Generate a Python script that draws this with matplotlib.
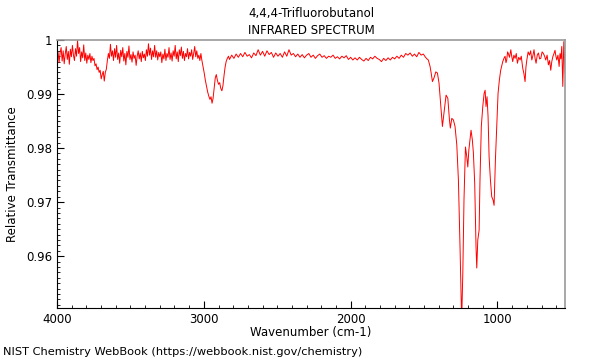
import matplotlib
matplotlib.use("Agg")
import matplotlib.pyplot as plt
from matplotlib.ticker import MultipleLocator, FixedLocator, FixedFormatter
import numpy as np

title_lines = ["4,4,4-Trifluorobutanol", "INFRARED SPECTRUM"]
x_label = "Wavenumber (cm-1)"
y_label = "Relative Transmittance"
footer = "NIST Chemistry WebBook (https://webbook.nist.gov/chemistry)"
x_ticks = [4000, 3000, 2000, 1000]
y_ticks = [0.96, 0.97, 0.98, 0.99, 1.0]
y_tick_labels = ["0.96", "0.97", "0.98", "0.99", "1"]

# Segment 1: 4000-3013 cm-1 (noisy region with O-H area dip)
wn_high = [4000, 3993, 3986, 3979, 3972, 3965, 3958, 3951, 3944, 3937, 3930, 3923,
           3916, 3909, 3902, 3895, 3888, 3881, 3874, 3867, 3860, 3853, 3846, 3839,
           3832, 3825, 3818, 3811, 3804, 3797, 3790, 3783, 3776, 3769, 3762, 3755,
           3748, 3741, 3734, 3727, 3720, 3713, 3706, 3699, 3692, 3685, 3678, 3671,
           3664, 3657, 3650, 3643, 3636, 3629, 3622, 3615, 3608, 3601, 3594, 3587,
           3580, 3573, 3566, 3559, 3552, 3545, 3538, 3531, 3524, 3517, 3510, 3503,
           3496, 3489, 3482, 3475, 3468, 3461, 3454, 3447, 3440, 3433, 3426, 3419,
           3412, 3405, 3398, 3391, 3384, 3377, 3370, 3363, 3356, 3349, 3342, 3335,
           3328, 3321, 3314, 3307, 3300, 3293, 3286, 3279, 3272, 3265, 3258, 3251,
           3244, 3237, 3230, 3223, 3216, 3209, 3202, 3195, 3188, 3181, 3174, 3167,
           3160, 3153, 3146, 3139, 3132, 3125, 3118, 3111, 3104, 3097, 3090, 3083,
           3076, 3069, 3062, 3055, 3048, 3041, 3034, 3027, 3020, 3013]
t_high = [0.9968, 0.9978, 0.9958, 0.9976, 0.9986, 0.9961, 0.9980, 0.9956, 0.9974, 0.9988,
          0.9964, 0.9979, 0.9955, 0.9983, 0.9969, 0.9990, 0.9972, 0.9962, 0.9984, 0.9970,
          0.9999, 0.9975, 0.9986, 0.9960, 0.9978, 0.9967, 0.9991, 0.9962, 0.9976, 0.9957,
          0.9972, 0.9964, 0.9975, 0.9958, 0.9970, 0.9962, 0.9966, 0.9952, 0.9956, 0.9945,
          0.9950, 0.9940, 0.9944, 0.9928, 0.9936, 0.9942, 0.9924, 0.9940, 0.9946, 0.9962,
          0.9975, 0.9966, 0.9992, 0.9970, 0.9980, 0.9962, 0.9984, 0.9968, 0.9990, 0.9964,
          0.9976, 0.9957, 0.9981, 0.9969, 0.9986, 0.9961, 0.9975, 0.9954, 0.9979, 0.9968,
          0.9989, 0.9964, 0.9973, 0.9959, 0.9978, 0.9966, 0.9972, 0.9953, 0.9970, 0.9980,
          0.9965, 0.9976, 0.9960, 0.9979, 0.9967, 0.9974, 0.9962, 0.9982, 0.9970, 0.9993,
          0.9972, 0.9985, 0.9964, 0.9980, 0.9969, 0.9990, 0.9968, 0.9980, 0.9963, 0.9977,
          0.9969, 0.9978, 0.9958, 0.9974, 0.9965, 0.9983, 0.9962, 0.9975, 0.9968, 0.9986,
          0.9964, 0.9976, 0.9961, 0.9980, 0.9970, 0.9990, 0.9965, 0.9978, 0.9960, 0.9982,
          0.9971, 0.9987, 0.9966, 0.9979, 0.9962, 0.9975, 0.9969, 0.9984, 0.9965, 0.9977,
          0.9970, 0.9982, 0.9964, 0.9975, 0.9988, 0.9969, 0.9980, 0.9966, 0.9972, 0.9962,
          0.9975, 0.9962]

# Segment 2: C-H stretch band 3005-2832 cm-1
wn_ch = [3005, 2998, 2990, 2982, 2974, 2966, 2958, 2951, 2944, 2937, 2930, 2922, 2915,
         2908, 2900, 2892, 2885, 2877, 2870, 2862, 2855, 2848, 2840, 2832]
t_ch = [0.9950, 0.9940, 0.9926, 0.9915, 0.9904, 0.9896, 0.9890, 0.9895, 0.9883, 0.9892,
        0.9910, 0.9930, 0.9936, 0.9926, 0.9918, 0.9921, 0.9911, 0.9906, 0.9915, 0.9935,
        0.9950, 0.9960, 0.9966, 0.9970]

# Segment 3: quiet baseline 2825-1480 cm-1
wn_base = [2825, 2810, 2795, 2780, 2765, 2750, 2735, 2720, 2705, 2690, 2675, 2660, 2645,
           2630, 2615, 2600, 2585, 2570, 2555, 2540, 2525, 2510, 2495, 2480, 2465, 2450,
           2435, 2420, 2405, 2390, 2375, 2360, 2345, 2330, 2315, 2300, 2285, 2270, 2255,
           2240, 2225, 2210, 2195, 2180, 2165, 2150, 2135, 2120, 2105, 2090, 2075, 2060,
           2045, 2030, 2015, 2000, 1985, 1970, 1955, 1940, 1925, 1910, 1895, 1880, 1865,
           1850, 1835, 1820, 1805, 1790, 1775, 1760, 1745, 1730, 1715, 1700, 1685, 1670,
           1655, 1640, 1625, 1610, 1595, 1580, 1565, 1550, 1535, 1520, 1505, 1490, 1480]
t_base = [0.9964, 0.9972, 0.9966, 0.9974, 0.9968, 0.9975, 0.9969, 0.9977, 0.9970, 0.9973,
          0.9967, 0.9976, 0.9971, 0.9982, 0.9972, 0.9979, 0.9970, 0.9980, 0.9973, 0.9977,
          0.9968, 0.9976, 0.9970, 0.9975, 0.9968, 0.9978, 0.9970, 0.9982, 0.9972, 0.9975,
          0.9969, 0.9974, 0.9968, 0.9973, 0.9967, 0.9972, 0.9975, 0.9968, 0.9972, 0.9966,
          0.9971, 0.9974, 0.9968, 0.9971, 0.9966, 0.9970, 0.9968, 0.9972, 0.9966, 0.9969,
          0.9965, 0.9970, 0.9967, 0.9971, 0.9964, 0.9968, 0.9963, 0.9967, 0.9963, 0.9968,
          0.9964, 0.9961, 0.9966, 0.9962, 0.9968, 0.9965, 0.9970, 0.9966, 0.9964, 0.9960,
          0.9966, 0.9962, 0.9967, 0.9963, 0.9968, 0.9965, 0.9970, 0.9966, 0.9972, 0.9968,
          0.9975, 0.9972, 0.9976, 0.9970, 0.9974, 0.9969, 0.9977, 0.9972, 0.9974, 0.9968,
          0.9965]

# Segment 4: fingerprint bands 1471-964 cm-1
wn_fp = [1471, 1459, 1451, 1443, 1432, 1420, 1409, 1398, 1386, 1375, 1364, 1350, 1338,
         1327, 1321, 1311, 1300, 1289, 1277, 1266, 1255, 1246, 1243, 1236, 1228, 1218,
         1209, 1202, 1195, 1187, 1180, 1171, 1164, 1155, 1146, 1141, 1134, 1125, 1119,
         1110, 1100, 1091, 1084, 1078, 1071, 1064, 1057, 1048, 1039, 1030, 1023, 1014,
         1005, 996, 987, 978, 971, 964]
t_fp = [0.9963, 0.9951, 0.9938, 0.9923, 0.9930, 0.9941, 0.9939, 0.9920, 0.9877, 0.9840,
        0.9865, 0.9898, 0.9892, 0.9852, 0.9837, 0.9855, 0.9852, 0.9840, 0.9806, 0.9741,
        0.9617, 0.9506, 0.9490, 0.9568, 0.9704, 0.9802, 0.9784, 0.9765, 0.9796, 0.9815,
        0.9833, 0.9815, 0.9791, 0.9735, 0.9617, 0.9578, 0.9630, 0.9648, 0.9741, 0.9840,
        0.9877, 0.9901, 0.9907, 0.9877, 0.9895, 0.9858, 0.9784, 0.9741, 0.9710, 0.9704,
        0.9694, 0.9778, 0.9840, 0.9901, 0.9926, 0.9944, 0.9952, 0.9960]

# Segment 5: low-wavenumber end 956-539 cm-1
wn_low = [956, 948, 942, 937, 931, 926, 918, 909, 903, 896, 888, 880, 872, 864, 855,
          846, 838, 828, 820, 812, 806, 800, 791, 782, 774, 766, 758, 751, 744, 737,
          729, 721, 713, 705, 696, 687, 679, 671, 662, 653, 645, 637, 630, 623, 615,
          608, 602, 596, 588, 580, 574, 568, 562, 555, 548, 543, 539]
t_low = [0.9966, 0.9970, 0.9958, 0.9963, 0.9978, 0.9975, 0.9968, 0.9982, 0.9970, 0.9960,
         0.9972, 0.9966, 0.9975, 0.9957, 0.9968, 0.9963, 0.9970, 0.9948, 0.9938, 0.9923,
         0.9950, 0.9963, 0.9978, 0.9972, 0.9980, 0.9963, 0.9972, 0.9982, 0.9966, 0.9957,
         0.9972, 0.9976, 0.9965, 0.9966, 0.9978, 0.9975, 0.9970, 0.9963, 0.9972, 0.9954,
         0.9962, 0.9944, 0.9960, 0.9969, 0.9975, 0.9981, 0.9970, 0.9963, 0.9972, 0.9951,
         0.9975, 0.9965, 0.9988, 0.9914, 0.9997, 0.9960, 0.9939]

wavenumber = np.array(wn_high + wn_ch + wn_base + wn_fp + wn_low, dtype=float)
transmittance = np.array(t_high + t_ch + t_base + t_fp + t_low, dtype=float)

fig = plt.figure(figsize=(6.0, 3.6), dpi=100)
ax = fig.add_axes([57 / 600, 1 - 308 / 360, (565 - 57) / 600, (308 - 40) / 360])

ax.plot(wavenumber, transmittance, color="#ff0000", linewidth=0.7)

ax.set_xlim(4000, 540)
ax.set_ylim(0.9504, 1.0)

ax.xaxis.set_major_locator(FixedLocator(x_ticks))
ax.xaxis.set_minor_locator(MultipleLocator(100))
ax.yaxis.set_major_locator(FixedLocator(y_ticks))
ax.yaxis.set_major_formatter(FixedFormatter(y_tick_labels))
ax.yaxis.set_minor_locator(MultipleLocator(0.001))

ax.tick_params(axis="both", which="both", direction="in", top=False, right=False,
               labelsize=8.5, colors="black")
ax.tick_params(axis="both", which="major", length=5, width=0.8)
ax.tick_params(axis="both", which="minor", length=2.5, width=0.6)

for side in ("top", "right"):
    ax.spines[side].set_color("#999999")
    ax.spines[side].set_linewidth(1.2)
for side in ("left", "bottom"):
    ax.spines[side].set_color("black")
    ax.spines[side].set_linewidth(0.8)

ax.set_xlabel(x_label, fontsize=8.5, labelpad=0)
ax.set_ylabel(y_label, fontsize=8.5, labelpad=5)

fig.text(311 / 600, 1 - 13 / 360, title_lines[0], ha="center", va="center", fontsize=8.5)
fig.text(311 / 600, 1 - 30 / 360, title_lines[1], ha="center", va="center", fontsize=8.5)
fig.text(3 / 600, 1 - 352 / 360, footer, ha="left", va="center", fontsize=8.2)

fig.savefig("out.png", dpi=100)
